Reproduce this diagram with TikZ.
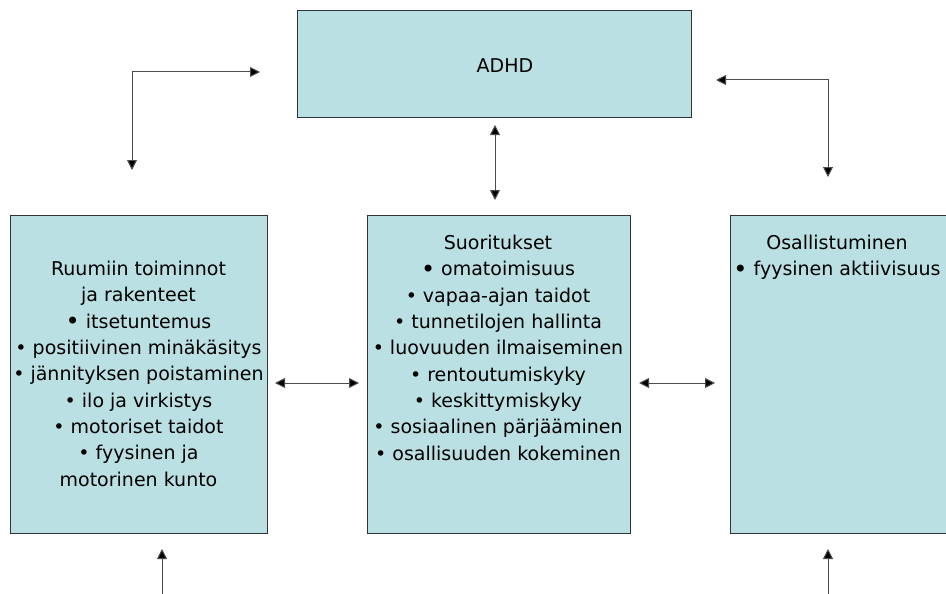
\documentclass[tikz,border=0pt]{standalone}
\usepackage{fontspec}
\setmainfont{DejaVu Sans}
\usetikzlibrary{arrows.meta,positioning}
\definecolor{boxfill}{RGB}{186,224,227}
\newcommand{\firstbul}{\raisebox{-1.6pt}{\fontsize{24}{26.3}\selectfont •}}

\begin{document}
\begin{tikzpicture}[x=1pt, y=-1pt,
      font=\fontsize{19}{26.3}\selectfont,
      box/.style={draw=black!80, line width=1.2pt, fill=boxfill, inner sep=0pt, anchor=north west},
      txt/.style={align=center, inner sep=0pt, anchor=north},
      ar/.style={-{Triangle[length=10pt, width=10pt, fill=black]}, line width=1pt, draw=black!70},
      dar/.style={{Triangle[length=10pt, width=10pt, fill=black]}-{Triangle[length=10pt, width=10pt, fill=black]}, line width=1pt, draw=black!70}]
    \useasboundingbox (0,0) rectangle (946,594);
    \clip (0,0) rectangle (946,594);
    % boxes
    \node[box, minimum width=394pt, minimum height=107pt] (adhd) at (297,10) {};
    \node[box, minimum width=257pt, minimum height=318pt] (ruumis) at (10,215) {};
    \node[box, minimum width=263pt, minimum height=318pt] (suor) at (367,215) {};
    \node[box, minimum width=240pt, minimum height=318pt] (osal) at (730,215) {};
    % texts
    \node[txt] (adhdtxt) at (505,58) {ADHD};
    \node[txt] (ruumistxt) at (138.5,261) {Ruumiin toiminnot\\ ja rakenteet\\ \firstbul\ itsetuntemus\\ • positiivinen minäkäsitys\\ • jännityksen poistaminen\\ • ilo ja virkistys\\ • motoriset taidot\\ • fyysinen ja\\ motorinen kunto};
    \node[txt] (suortxt) at (498,235) {Suoritukset\\ \firstbul\ omatoimisuus\\ • vapaa-ajan taidot\\ • tunnetilojen hallinta\\ • luovuuden ilmaiseminen\\ • rentoutumiskyky\\ • keskittymiskyky\\ • sosiaalinen pärjääminen\\ • osallisuuden kokeminen};
    \node[txt] (osaltxt) at (837,235) {Osallistuminen\\ \firstbul\ fyysinen aktiivisuus};
    % connector ends
    \coordinate (tl-s) at (132,170);
    \coordinate (tl-e) at (260,72);
    \coordinate (tr-s) at (828,177);
    \coordinate (tr-w) at (716,80);
    \coordinate (mid-n) at (495,125);
    \coordinate (mid-s) at (495,200);
    \coordinate (lm-w) at (275,383);
    \coordinate (lm-e) at (359,383);
    \coordinate (mr-w) at (639,383);
    \coordinate (mr-e) at (715,383);
    \coordinate (bl-a) at (162,594);
    \coordinate (bl-b) at (162,549);
    \coordinate (br-a) at (828,594);
    \coordinate (br-b) at (828,549);
    % connectors
    \draw[dar] (tl-s) |- (tl-e);
    \draw[dar] (tr-s) |- (tr-w);
    \draw[dar] (mid-n) -- (mid-s);
    \draw[dar] (lm-w) -- (lm-e);
    \draw[dar] (mr-w) -- (mr-e);
    \draw[ar] (bl-a) -- (bl-b);
    \draw[ar] (br-a) -- (br-b);
\end{tikzpicture}
\end{document}
